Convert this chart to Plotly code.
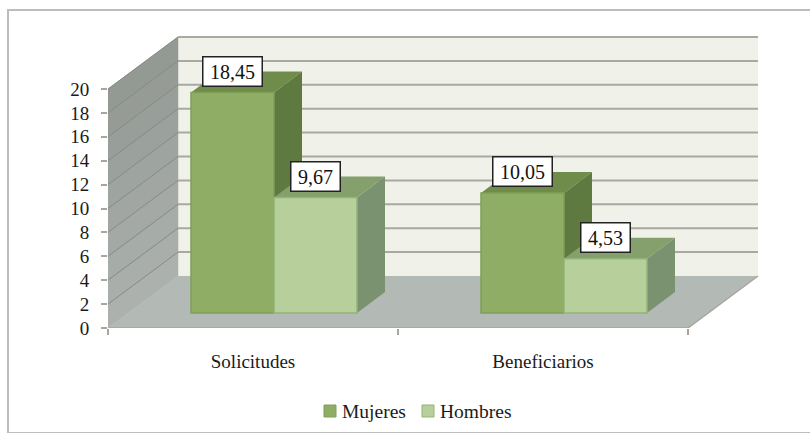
import plotly.graph_objects as go

categories = ["Solicitudes", "Beneficiarios"]
mujeres = [18.45, 10.05]
hombres = [9.67, 4.53]
y_ticks = [0, 2, 4, 6, 8, 10, 12, 14, 16, 18, 20]

FONT = "Liberation Serif"
W, H = 810, 433
L, R, T, B = 108, 760, 30, 328      # plot box in pixels
X_UNIT = 290.0                      # pixels per category
Y_UNIT = 11.95                      # pixels per value unit
x_min = -0.5
x_max = x_min + (R - L) / X_UNIT
y_max = (B - T) / Y_UNIT

DX = 70 / X_UNIT                    # floor depth
DY = 52 / Y_UNIT
BAR_W = 83 / X_UNIT
BAR_SHIFT = 21 / X_UNIT
BAR_LIFT = 15 / Y_UNIT
BAR_DX = 28 / X_UNIT
BAR_DY = 21 / Y_UNIT
x_end = 1.5


def px(v):
    return (v - L) / (R - L)


def py(v):
    return (B - v) / (B - T)


def poly(points, fill, line=None, width=0):
    path = "M" + "L".join(f"{a},{b}" for a, b in points) + "Z"
    return dict(type="path", path=path, xref="x", yref="y", layer="below",
                fillcolor=fill, line=dict(color=line or fill, width=width))


def seg(x0, y0, x1, y1, color, width):
    return dict(type="line", x0=x0, y0=y0, x1=x1, y1=y1, xref="x", yref="y",
                layer="below", line=dict(color=color, width=width))


top = y_ticks[-1]
shapes = [
    # outer frame
    dict(type="rect", xref="paper", yref="paper",
         x0=px(8), x1=px(815), y0=py(433), y1=py(10),
         layer="below", line=dict(color="#BDBDBD", width=2), fillcolor="white"),
    # back wall and floor
    poly([(x_min + DX, DY), (x_end + DX, DY), (x_end + DX, top + DY), (x_min + DX, top + DY)], "#F0F2EA"),
    poly([(x_min, 0), (x_end, 0), (x_end + DX, DY), (x_min + DX, DY)], "#B3B9B5"),
]
# side wall: shaded in bands, darker towards the top
for lo, hi in zip(y_ticks[:-1], y_ticks[1:]):
    s = lo / top
    shade = "#%02X%02X%02X" % (round(172 - 28 * s), round(177 - 27 * s), round(174 - 30 * s))
    shapes.append(poly([(x_min, lo), (x_min + DX, lo + DY), (x_min + DX, hi + DY), (x_min, hi)], shade, shade, 0.5))
for t in y_ticks[1:]:
    shapes.append(seg(x_min + DX, t + DY, x_end + DX, t + DY, "#A9A8A1", 2))
    shapes.append(seg(x_min, t, x_min + DX, t + DY, "#858984", 1))
shapes.append(seg(x_min, 0, x_end, 0, "#A8A59E", 1.5))
shapes.append(seg(x_end, 0, x_end + DX, DY, "#A8A59E", 1.5))


def faces(values, left_edge, top_col, side_col):
    out = []
    for i, v in enumerate(values):
        x0 = i + BAR_SHIFT + left_edge
        x1 = x0 + BAR_W
        y0 = BAR_LIFT
        y1 = BAR_LIFT + v
        out.append(poly([(x0, y1), (x1, y1), (x1 + BAR_DX, y1 + BAR_DY), (x0 + BAR_DX, y1 + BAR_DY)], top_col))
        out.append(poly([(x1, y0), (x1 + BAR_DX, y0 + BAR_DY), (x1 + BAR_DX, y1 + BAR_DY), (x1, y1)], side_col))
    return out


shapes += faces(mujeres, -BAR_W, "#6F8C4A", "#5F7A40")
shapes += faces(hombres, 0, "#86A06D", "#7B9270")

series = [
    ("Mujeres", mujeres, -BAR_W, "#8FAD64", "#7FA057", 324),
    ("Hombres", hombres, 0, "#B7CF9B", "#93B477", 422),
]

fig = go.Figure()
annotations = []
for name, vals, off, col, edge, key_x in series:
    fig.add_bar(
        name=name,
        x=[i + BAR_SHIFT for i in range(len(categories))],
        y=vals,
        base=[BAR_LIFT] * len(vals),
        width=BAR_W,
        offset=off,
        marker=dict(color=col, line=dict(color=edge, width=1.5)),
        hoverinfo="skip",
        showlegend=False,
    )
    # legend key and text
    shapes.append(dict(type="rect", xref="paper", yref="paper",
                       x0=px(key_x), x1=px(key_x + 12), y0=py(417), y1=py(405),
                       fillcolor=col, line=dict(color=edge, width=1)))
    annotations.append(dict(x=px(key_x + 16), y=py(411), xref="paper", yref="paper",
                            text=name, showarrow=False, xanchor="left", yanchor="middle",
                            font=dict(family=FONT, size=19.5, color="#1A1A1A")))
    for i, v in enumerate(vals):
        annotations.append(dict(
            x=i + BAR_SHIFT + off + BAR_W / 2, y=BAR_LIFT + v, xref="x", yref="y",
            text=f"{v:.2f}".replace(".", ","), showarrow=False, yanchor="middle",
            yshift=21, font=dict(family=FONT, size=20, color="#111111"),
            bgcolor="white", bordercolor="#222222", borderwidth=1.5,
            borderpad=3, width=(58 if v >= 10 else 48) - 6, height=22,
        ))

fig.update_layout(
    width=W, height=H, autosize=False,
    margin=dict(l=L, r=W - R, t=T, b=H - B, pad=0),
    paper_bgcolor="white", plot_bgcolor="rgba(0,0,0,0)",
    barmode="overlay", shapes=shapes, annotations=annotations,
    font=dict(family=FONT, size=19, color="#1A1A1A"),
    xaxis=dict(range=[x_min, x_max], tickvals=list(range(len(categories))), ticktext=categories,
               ticks="", showgrid=False, zeroline=False, showline=False, ticklabelstandoff=20,
               minor=dict(tickvals=[-0.5, 0.5, 1.5], ticks="outside", ticklen=6,
                          tickcolor="#A8A59E", tickwidth=1.5, showgrid=False)),
    yaxis=dict(range=[0, y_max], tickvals=y_ticks, ticks="outside", ticklen=6,
               tickcolor="#A8A59E", tickwidth=1.5, showgrid=False, zeroline=False, showline=False,
               ticklabelstandoff=8),
)
fig.write_html("out.html", config=dict(displayModeBar=False), post_script=
               "document.body.style.margin='0';document.documentElement.style.overflow='hidden';")
